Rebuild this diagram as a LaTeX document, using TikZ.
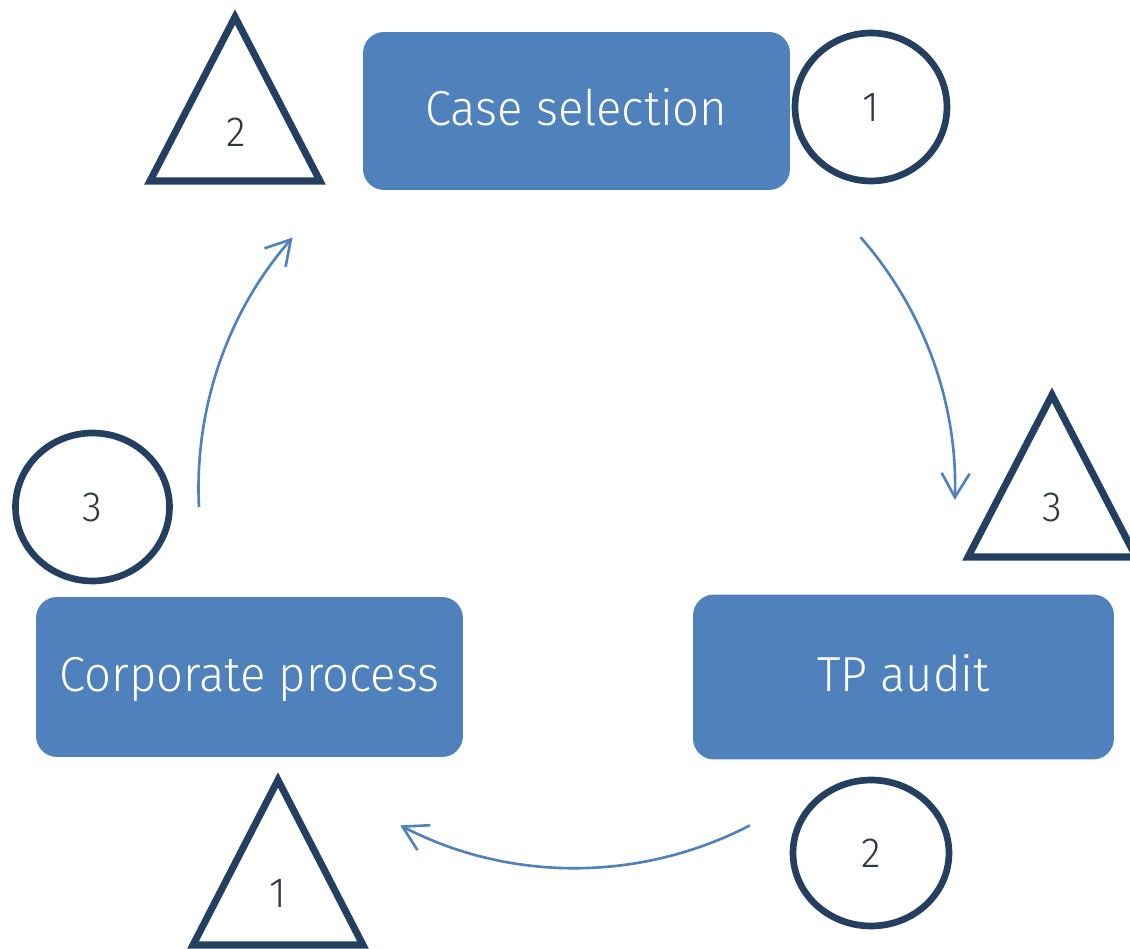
\documentclass[tikz,border=0pt]{standalone}
\usepackage{fontspec}
\setmainfont{Fira Sans}[UprightFont={* Light}, FakeStretch=0.96]
\usetikzlibrary{arrows.meta,shapes.geometric}
\definecolor{boxblue}{RGB}{79,129,189}
\definecolor{navy}{RGB}{36,63,96}
\definecolor{digitcol}{RGB}{45,55,70}
\begin{document}
\begin{tikzpicture}[x=0.02cm,y=-0.02cm,
  stagebox/.style={rectangle, rounded corners=0.42cm, fill=boxblue, text=white,
    font=\fontsize{28}{32}\selectfont, text height=0.7cm, text depth=0.1cm, inner sep=0pt},
  ring/.style={ellipse, draw=navy, line width=3.8pt, inner sep=0pt, text=digitcol,
    font=\fontsize{24}{28}\selectfont},
  tri/.style={draw=navy, line width=4pt, line join=miter},
  tlabel/.style={text=digitcol, inner sep=0pt, font=\fontsize{24}{28}\selectfont},
  flow/.style={draw=boxblue, line width=1.5pt, -{Straight Barb[length=0.48cm,width=0.56cm]}}
]
\useasboundingbox (0,0) rectangle (1130,949);
\fill[white] (0,0) rectangle (1130,949);

% stage boxes
\node[stagebox, minimum width=8.54cm, minimum height=3.16cm] (case) at (576.5,111) {Case selection};
\node[stagebox, minimum width=8.54cm, minimum height=3.2cm] (corp) at (249.5,677) {Corporate process};
\node[stagebox, minimum width=8.42cm, minimum height=3.3cm] (tp) at (903.5,677) {TP audit};

% circles
\node[ring, minimum width=3.04cm, minimum height=2.96cm] (c1) at (871,107) {1};
\node[ring, minimum width=3.08cm, minimum height=2.96cm] (c3) at (92.5,507) {3};
\node[ring, minimum width=3.12cm, minimum height=2.92cm] (c2) at (871,853) {2};

% triangles
\coordinate (t2a) at (235,17);
\coordinate (t2l) at (150,181);
\coordinate (t2r) at (320,181);
\draw[tri] (t2a) -- (t2l) -- (t2r) -- cycle;
\node[tlabel] (t2n) at (236,132) {2};

\coordinate (t3a) at (1052,395);
\coordinate (t3l) at (968,557);
\coordinate (t3r) at (1136,557);
\draw[tri] (t3a) -- (t3l) -- (t3r) -- cycle;
\node[tlabel] (t3n) at (1052,507) {3};

\coordinate (t1a) at (278,780);
\coordinate (t1l) at (193,945);
\coordinate (t1r) at (363,945);
\draw[tri] (t1a) -- (t1l) -- (t1r) -- cycle;
\node[tlabel] (t1n) at (278,893) {1};

% flow arrows (arcs of one circle)
\coordinate (a1s) at (860.5,237.2);
\coordinate (a2s) at (749.9,825.4);
\coordinate (a3s) at (199,507);
\draw[flow] (a1s) arc[start angle=41.3, end angle=-1.8, radius=7.6cm];
\draw[flow] (a2s) arc[start angle=-62.6, end angle=-117.4, radius=7.6cm];
\draw[flow] (a3s) arc[start angle=182.9, end angle=138.8, radius=7.6cm];
\end{tikzpicture}
\end{document}
